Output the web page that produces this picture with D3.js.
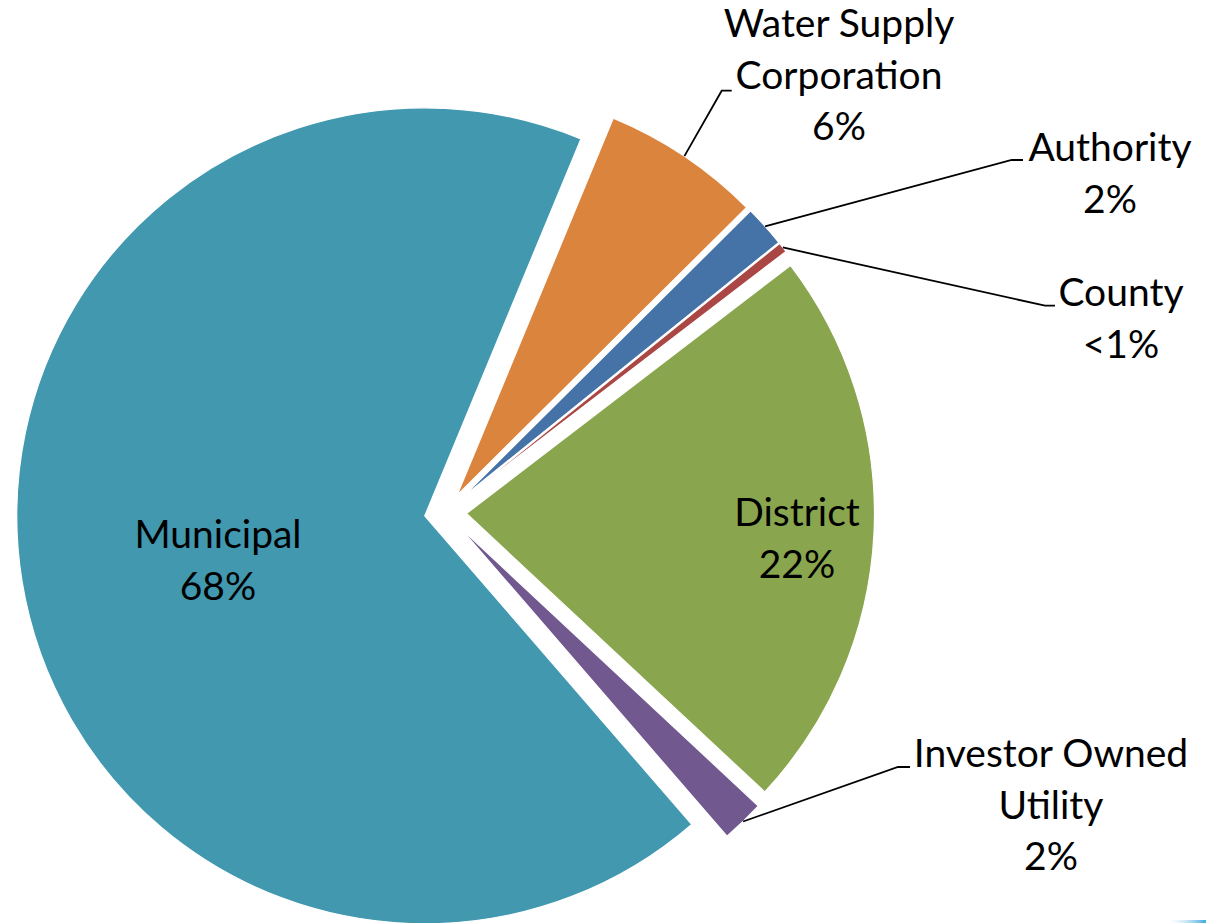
<!DOCTYPE html>
<html><head><meta charset="utf-8">
<script src="https://cdn.jsdelivr.net/npm/d3@7"></script>
<style>html,body{margin:0;padding:0;background:#fff;overflow:hidden;} svg{display:block;}</style>
</head><body>
<svg id="chart" width="1206" height="923"></svg>
<script>
// ---- data ----
const categories = ["Water Supply Corporation", "Authority", "County", "District", "Investor Owned Utility", "Municipal"];
const values = [6.3, 1.65, 0.4, 22.35, 1.7, 67.6];
const valueLabels = ["6%", "2%", "<1%", "22%", "2%", "68%"];
const nameLines = [["Water Supply", "Corporation"], ["Authority"], ["County"], ["District"], ["Investor Owned", "Utility"], ["Municipal"]];
const colors = ["#DB843D", "#4572A7", "#AA4643", "#89A54E", "#71588F", "#4198AF"];

// ---- layout ----
const W = 1206, H = 923;
const cx = 445.5, cy = 512.5, R = 408, explode = 21;
const startDeg = 22.5;
const fontSize = 39, lineH = 51.5;
// label placement: centre x, first baseline y, leader elbow (x,y) & end x (null = no leader)
const labelLayout = [
  {x: 839, y: 37, elbow: [721.7, 90.7], end: 731.7},
  {x: 1110, y: 161, elbow: [1011.7, 160], end: 1023},
  {x: 1121, y: 306, elbow: [1045, 305.7], end: 1055},
  {x: 797, y: 526, elbow: null},
  {x: 1051, y: 767, elbow: [898, 767], end: 910},
  {x: 218, y: 548, elbow: null}
];

const svg = d3.select("#chart");
const rows = categories.map((c, i) => ({name: c, value: values[i], pct: valueLabels[i], lines: nameLines[i], color: colors[i], lay: labelLayout[i]}));

const s0 = startDeg * Math.PI / 180;
const pie = d3.pie().sort(null).value(d => d.value).startAngle(s0).endAngle(s0 + 2 * Math.PI);
const arc = d3.arc().innerRadius(0).outerRadius(R);
const arcs = pie(rows);

function offset(a) {
  const m = (a.startAngle + a.endAngle) / 2;
  return [cx + explode * Math.sin(m), cy - explode * Math.cos(m)];
}

const g = svg.append("g");
g.selectAll("path.slice").data(arcs).join("path")
  .attr("class", "slice")
  .attr("transform", d => { const o = offset(d); return `translate(${o[0]},${o[1]})`; })
  .attr("d", arc)
  .attr("fill", d => d.data.color)
  .attr("stroke", "#fff")
  .attr("stroke-width", 1.2)
  .attr("stroke-linejoin", "miter");

// leader lines
arcs.forEach(d => {
  const lay = d.data.lay;
  if (!lay.elbow) return;
  const o = offset(d);
  const m = (d.startAngle + d.endAngle) / 2;
  const p0 = [o[0] + R * Math.sin(m), o[1] - R * Math.cos(m)];
  svg.append("polyline")
    .attr("points", [p0, lay.elbow, [lay.end, lay.elbow[1]]].map(p => p.join(",")).join(" "))
    .attr("fill", "none")
    .attr("stroke", "#000")
    .attr("stroke-width", 1.8);
});

// labels
arcs.forEach(d => {
  const lay = d.data.lay;
  const lines = d.data.lines.concat([d.data.pct]);
  const t = svg.append("text")
    .attr("x", lay.x).attr("y", lay.y)
    .attr("text-anchor", "middle")
    .attr("font-family", "Lato, 'Open Sans', sans-serif")
    .attr("font-size", fontSize)
    .attr("fill", "#000");
  lines.forEach((ln, i) => {
    t.append("tspan").attr("x", lay.x).attr("y", lay.y + i * lineH).text(ln);
  });
});

// faint decorative edge at bottom-right corner
const grad = svg.append("defs").append("linearGradient").attr("id", "edge").attr("x1", "0").attr("x2", "1");
grad.append("stop").attr("offset", "0").attr("stop-color", "#bfe3f5").attr("stop-opacity", 0);
grad.append("stop").attr("offset", "1").attr("stop-color", "#3fa9e0");
svg.append("rect").attr("x", 1170).attr("y", 920).attr("width", 36).attr("height", 3).attr("fill", "url(#edge)");
</script>
</body></html>
